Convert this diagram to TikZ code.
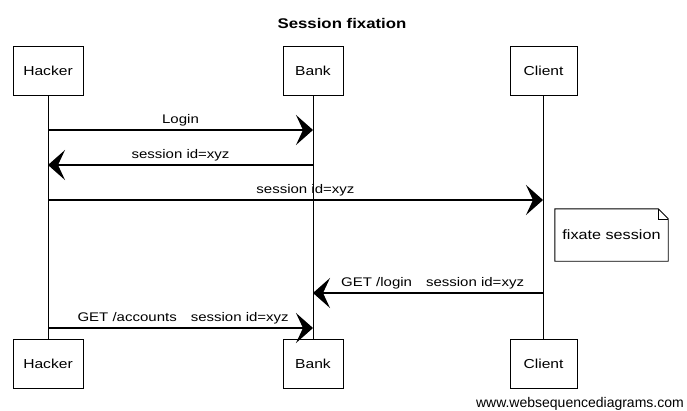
\documentclass[tikz,border=0pt]{standalone}
\usepackage{fontspec}
\setmainfont{Liberation Sans}
\newfontfamily\handfont[FakeStretch=1.2]{Liberation Sans}
\usetikzlibrary{arrows.meta}
\begin{document}
\begin{tikzpicture}[x=1pt,y=-1pt,
  actor/.style={draw,line width=0.9pt,minimum width=#1,minimum height=49pt,inner sep=0pt,font=\handfont\fontsize{13}{15}\selectfont},
  actor/.default=64pt,
  life/.style={line width=0.8pt},
  msg/.style={line width=1.2pt,-{Stealth[length=17pt,width=30pt,inset=7pt]}},
  lbl/.style={font=\handfont\fontsize{12.5}{14}\selectfont,inner sep=0pt,anchor=base,yshift=7pt}]
\path[use as bounding box] (0,0) rectangle (687,410);
\fill[white] (0,0) rectangle (687,410);
\node[font=\handfont\bfseries\fontsize{14}{16}\selectfont,anchor=base,inner sep=0pt] (title) at (342,28) {Session fixation};
\node[actor=70pt] (h1) at (48,70.5) {Hacker};
\node[actor=60pt] (b1) at (313,70.5) {Bank};
\node[actor=67pt] (c1) at (543.5,70.5) {Client};
\node[actor=70pt] (h2) at (48,363.5) {Hacker};
\node[actor=60pt] (b2) at (313,363.5) {Bank};
\node[actor=67pt] (c2) at (543.5,363.5) {Client};
\draw[life] (h1.south) -- (h2.north);
\draw[life] (b1.south) -- (b2.north);
\draw[life] ([xshift=-0.5pt]c1.south) -- ([xshift=-0.5pt]c2.north);
\coordinate (h130) at (48,130); \coordinate (b130) at (313,130);
\coordinate (h165) at (48,165); \coordinate (b165) at (313,165);
\coordinate (h200) at (48,200); \coordinate (c200) at (543,200);
\coordinate (b293) at (313,293); \coordinate (c293) at (543,293);
\coordinate (h328) at (48,328); \coordinate (b328) at (313,328);
\draw[msg] (h130) -- node[lbl] (l1) {Login} (b130);
\draw[msg] (b165) -- node[lbl] (l2) {session id=xyz} (h165);
\draw[msg] (h200) -- node[lbl,pos=0.52] (l3) {session id=xyz} (c200);
\node[font=\handfont\fontsize{13.5}{15}\selectfont,minimum width=113pt,minimum height=52pt,inner sep=0pt] (note) at (611.5,235) {fixate session};
\draw[line width=0.9pt] (note.north west) -- ([xshift=-10pt]note.north east) -- ([yshift=-10pt]note.north east) -- (note.south east) -- (note.south west) -- cycle;
\draw[line width=0.6pt] ([xshift=-10pt]note.north east) -- ([xshift=-10pt,yshift=-10pt]note.north east) -- ([yshift=-10pt]note.north east);
\draw[msg] (c293) -- node[lbl,pos=0.48] (l4) {GET /login\hspace{14pt}session id=xyz} (b293);
\draw[msg] (h328) -- node[lbl,pos=0.51] (l5) {GET /accounts\hspace{14pt}session id=xyz} (b328);
\node[anchor=base east,font=\fontsize{14}{16}\selectfont,inner sep=0pt] (wm) at (684,407) {www.websequencediagrams.com};
\end{tikzpicture}
\end{document}
